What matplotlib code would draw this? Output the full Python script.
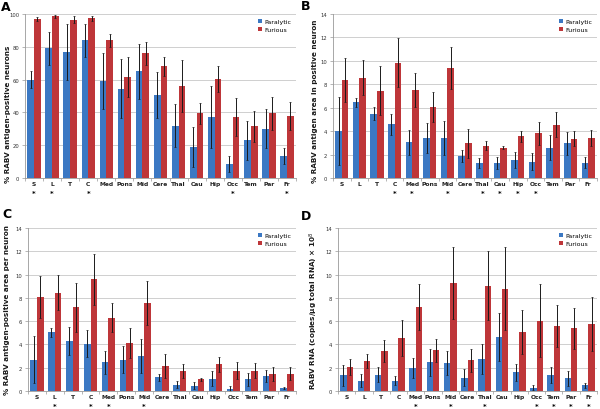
import numpy as np
import matplotlib
matplotlib.use("Agg")
import matplotlib.pyplot as plt

regions = ['S', 'L', 'T', 'C', 'Med', 'Pons', 'Mid', 'Cere', 'Thal', 'Cau',
           'Hip', 'Occ', 'Tem', 'Par', 'Fr']

# A: % RABV antigen-positive neurons
a_par = [60, 79, 77, 84, 59, 54.5, 65, 50.5, 32, 19, 37, 8.5, 23, 30, 13.5]
a_par_err = [5, 10, 17, 10, 17, 18, 17, 14, 13, 12, 19, 5, 12, 12, 5]
a_fur = [97, 98.5, 96.5, 97.5, 84, 61.5, 76, 68, 56, 39.5, 60.5, 37, 31.5, 39.5, 38]
a_fur_err = [1, 1, 2, 1.5, 4, 12, 7, 6, 16, 6.5, 8, 11.5, 9.5, 10, 8.5]
a_star = ['S', 'L', 'C', 'Occ', 'Fr']

# B: % RABV antigen area in positive neuron
b_par = [4.0, 6.45, 5.5, 4.6, 3.05, 3.4, 3.4, 1.85, 1.3, 1.28, 1.55, 1.4, 2.6, 2.95, 1.32]
b_par_err = [2.9, 0.4, 0.55, 0.9, 1.05, 1.3, 1.45, 0.5, 0.45, 0.5, 0.7, 0.7, 1.05, 1.0, 0.5]
b_fur = [8.35, 8.55, 7.45, 9.85, 7.5, 6.05, 9.4, 2.95, 2.75, 2.6, 3.55, 3.8, 4.55, 3.35, 3.4]
b_fur_err = [1.9, 1.5, 2.1, 2.1, 1.45, 1.25, 1.8, 1.2, 0.4, 0.15, 0.5, 0.95, 1.05, 0.65, 0.7]
b_star = ['C', 'Med', 'Mid', 'Thal', 'Cau', 'Hip', 'Occ']

# C: % RABV antigen-positive area per neuron
c_par = [2.7, 5.05, 4.3, 4.05, 2.45, 2.7, 3.0, 1.2, 0.55, 0.45, 1.05, 0.2, 1.0, 1.3, 0.25]
c_par_err = [2.0, 0.4, 1.2, 1.15, 1.0, 1.15, 1.45, 0.3, 0.3, 0.3, 0.65, 0.2, 0.55, 0.5, 0.12]
c_fur = [8.05, 8.45, 7.2, 9.6, 6.3, 4.15, 7.55, 2.15, 1.75, 1.0, 2.3, 1.75, 1.75, 1.5, 1.5]
c_fur_err = [1.8, 1.5, 2.1, 2.2, 1.25, 1.3, 1.9, 1.05, 0.6, 0.12, 0.65, 0.75, 0.65, 0.6, 0.55]
c_star = ['L', 'C', 'Med', 'Mid']

# D: RABV RNA
d_par = [1.35, 0.9, 1.4, 0.9, 1.95, 2.45, 2.4, 1.15, 2.75, 4.65, 1.6, 0.3, 1.4, 1.1, 0.5]
d_par_err = [0.9, 0.55, 0.65, 0.35, 0.85, 1.15, 1.0, 0.75, 1.25, 2.05, 0.75, 0.2, 0.7, 0.65, 0.2]
d_fur = [2.05, 2.6, 3.4, 4.55, 7.2, 3.5, 9.25, 2.65, 9.05, 8.8, 5.1, 6.05, 5.6, 5.4, 5.75]
d_fur_err = [0.7, 0.6, 0.95, 1.55, 2.0, 1.0, 3.1, 1.0, 2.95, 3.55, 1.9, 3.1, 1.8, 1.75, 2.3]
d_star = ['Med', 'Mid', 'Thal', 'Occ', 'Tem', 'Par', 'Fr']

BLUE = '#3B78C3'
RED = '#BE3639'


def panel(ax, par, par_err, fur, fur_err, stars, ymax, ystep):
    x = np.arange(len(regions))
    w = 0.37
    ekw = dict(elinewidth=0.7, capsize=1.0, capthick=0.5, ecolor='#1a1a1a')
    ax.bar(x - w / 2, par, w, yerr=par_err, color=BLUE, label='Paralytic',
           error_kw=ekw, zorder=2)
    ax.bar(x + w / 2, fur, w, yerr=fur_err, color=RED, label='Furious',
           error_kw=ekw, zorder=2)
    ax.set_xlim(-0.5, len(regions) - 0.5)
    ax.set_ylim(0, ymax)
    ax.set_yticks(np.arange(0, ymax + ystep / 2, ystep))
    ax.yaxis.grid(True, color='#c8c8c8', linewidth=0.6, zorder=0)
    ax.set_axisbelow(True)
    ax.set_xticks(x)
    ax.set_xticklabels(regions, fontsize=4.3, fontweight='bold', color='#222222')
    for xi, r in zip(x, regions):
        if r in stars:
            ax.annotate('*', (xi, 0), xycoords=('data', 'axes fraction'),
                        xytext=(0, -9), textcoords='offset points',
                        ha='center', va='top', fontsize=5, fontweight='bold')
    ax.set_xticks(np.arange(-0.5, len(regions)), minor=True)
    ax.tick_params(axis='x', which='major', length=0, pad=2.5)
    ax.tick_params(axis='x', which='minor', length=2.5, color='#999999', width=0.5)
    ax.tick_params(axis='y', labelsize=3.8, length=2, color='#999999',
                   labelcolor='#333333', width=0.5, pad=2)
    for s in ['top', 'right']:
        ax.spines[s].set_visible(False)
    for s in ['left', 'bottom']:
        ax.spines[s].set_color('#999999')
        ax.spines[s].set_linewidth(0.6)
    ax.legend(loc='upper right', fontsize=4.5, frameon=False, handlelength=0.55,
              handleheight=0.55, handletextpad=0.4, labelspacing=0.45,
              borderaxespad=0.4)


fig = plt.figure(figsize=(6, 4.1), dpi=100)
W, H = 600.0, 410.0


def box(l, t, r, b):
    return [l / W, 1 - b / H, (r - l) / W, (b - t) / H]


axA = fig.add_axes(box(25, 15, 296, 179))
axB = fig.add_axes(box(333, 15, 597, 179))
axC = fig.add_axes(box(28, 229, 296, 392))
axD = fig.add_axes(box(338, 229, 597, 392))

panel(axA, a_par, a_par_err, a_fur, a_fur_err, a_star, 100, 20)
panel(axB, b_par, b_par_err, b_fur, b_fur_err, b_star, 14, 2)
panel(axC, c_par, c_par_err, c_fur, c_fur_err, c_star, 14, 2)
panel(axD, d_par, d_par_err, d_fur, d_fur_err, d_star, 14, 2)

ylabels = [('% RABV antigen-positive neurons', 8, 114),
           ('% RABV antigen area in positive neuron', 315, 101),
           ('% RABV antigen-positive area per neuron', 7, 310),
           ('RABV RNA (copies/\u03bcg total RNA) \u00d7 10$^{8}$', 314, 311)]
for txt, px, py in ylabels:
    fig.text(px / W, 1 - py / H, txt, rotation=90, fontsize=5.2,
             fontweight='bold', color='#1a1a1a', ha='center', va='center')

for lab, px, py in [('A', 1, 1), ('B', 301, 0), ('C', 2, 208), ('D', 301, 210)]:
    fig.text(px / W, 1 - py / H, lab, fontsize=9, fontweight='bold',
             ha='left', va='top')

fig.savefig('out.png', dpi=100)
